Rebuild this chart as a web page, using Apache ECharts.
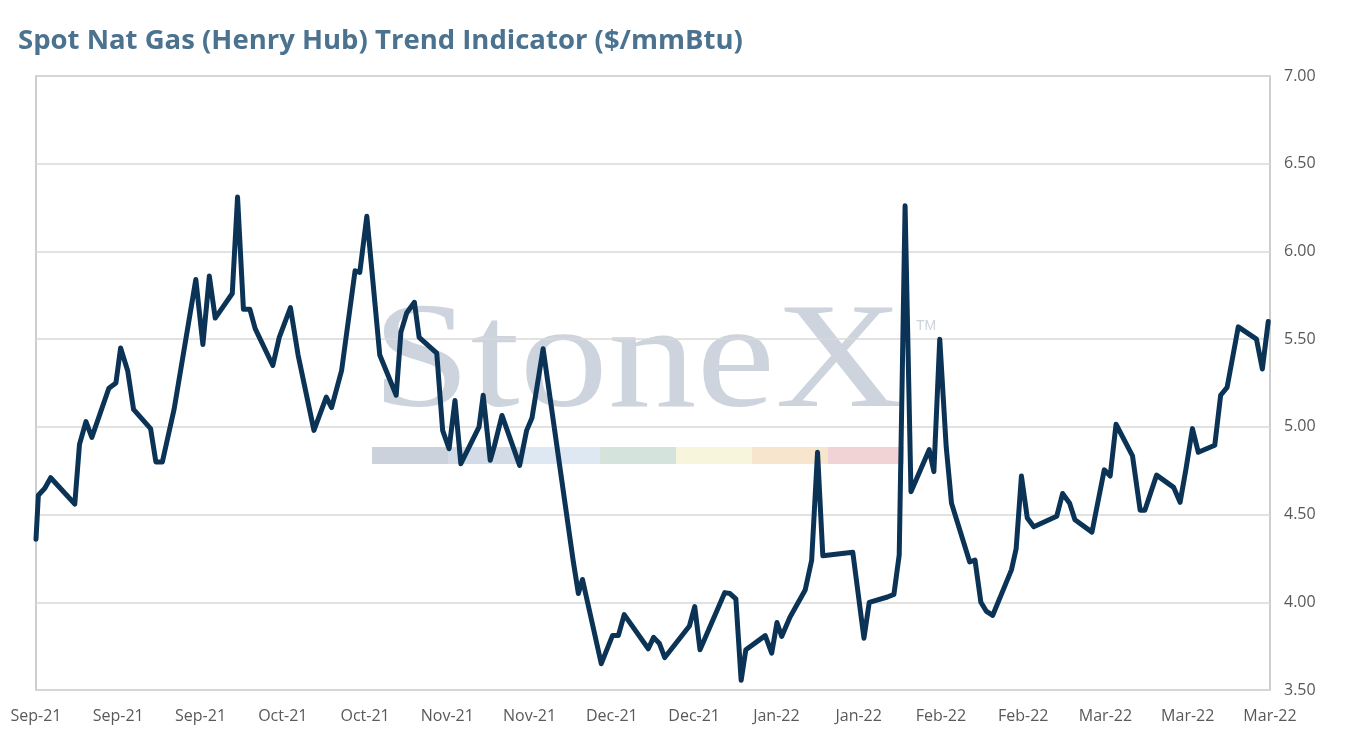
<!DOCTYPE html>
<html>
<head>
<meta charset="utf-8">
<title>Spot Nat Gas (Henry Hub) Trend Indicator</title>
<script src="https://cdn.jsdelivr.net/npm/echarts@6/dist/echarts.min.js"></script>
<style>
  html, body { margin: 0; padding: 0; background: #fff; }
  #chart { width: 1351px; height: 750px; }
</style>
</head>
<body>
<div id="chart"></div>
<script>
// x position in days counted from the 1 Sep 2021 tick (turning points only)
var days = [
    0, 0.4, 1.5, 2.5, 6.6, 7.4, 8.5, 9.5, 12.4, 13.6, 14.4, 15.6, 16.6, 19.5, 20.4, 21.5,
    23.5, 27.2, 28.4, 29.5, 30.5, 33.4, 34.3, 35.3, 36.4, 37.3, 40.3, 41.4, 43.3, 44.6,
    47.3, 49.4, 50.3, 52.0, 54.3, 55.1, 56.3, 58.5, 61.3, 62.1, 63.1, 64.4, 65.2, 68.2,
    69.2, 70.3, 71.3, 72.3, 75.4, 76.1, 77.3, 78.0, 79.3, 82.3, 83.5, 84.4, 86.3, 91.4,
    92.3, 93.0, 96.2, 98.1, 99.1, 100.1, 104.2, 105.1, 106.1, 107.0, 111.2, 112.1, 113.0,
    117.2, 118.1, 119.1, 120.0, 120.8, 124.1, 125.2, 126.1, 126.9, 128.3, 130.9, 132.0,
    133.0, 133.9, 139.0, 140.9, 141.8, 144.9, 146.0, 146.9, 147.9, 148.9, 152.0, 152.8,
    153.8, 154.9, 155.8, 158.9, 159.8, 160.8, 161.7, 162.8, 166.0, 166.8, 167.7, 168.7,
    169.8, 173.7, 174.7, 175.9, 176.8, 179.7, 181.8, 182.8, 183.8, 186.6, 187.9, 188.7,
    190.7, 193.6, 194.7, 195.7, 196.8, 197.8, 200.6, 201.6, 202.7, 204.6, 207.7, 208.7, 209.7
];
// spot price, $/mmBtu
var prices = [
    4.36, 4.61, 4.65, 4.71, 4.56, 4.90, 5.03, 4.94, 5.22, 5.25, 5.45, 5.32, 5.10, 4.99, 4.80, 4.80,
    5.10, 5.84, 5.47, 5.86, 5.62, 5.76, 6.31, 5.67, 5.67, 5.56, 5.35, 5.51, 5.68, 5.41,
    4.98, 5.17, 5.11, 5.32, 5.89, 5.88, 6.20, 5.41, 5.18, 5.54, 5.65, 5.71, 5.51, 5.42,
    4.98, 4.875, 5.15, 4.79, 5.00, 5.18, 4.81, 4.89, 5.065, 4.78, 4.98, 5.05, 5.445, 4.24,
    4.05, 4.13, 3.65, 3.81, 3.81, 3.93, 3.735, 3.80, 3.765, 3.685, 3.865, 3.975, 3.73,
    4.055, 4.05, 4.02, 3.555, 3.73, 3.81, 3.71, 3.885, 3.805, 3.915, 4.07, 4.24,
    4.855, 4.265, 4.285, 3.795, 4.00, 4.03, 4.045, 4.27, 6.26, 4.63, 4.87, 4.745,
    5.50, 4.885, 4.565, 4.23, 4.24, 4.00, 3.95, 3.925, 4.185, 4.305, 4.72, 4.48,
    4.43, 4.49, 4.62, 4.565, 4.47, 4.40, 4.755, 4.72, 5.015, 4.835, 4.525, 4.525,
    4.725, 4.655, 4.57, 4.76, 4.99, 4.855, 4.895, 5.18, 5.225, 5.57, 5.50, 5.33, 5.60
];
// one label every 14 days
var tickLabels = ['Sep-21', 'Sep-21', 'Sep-21', 'Oct-21', 'Oct-21', 'Nov-21', 'Nov-21', 'Dec-21',
    'Dec-21', 'Jan-22', 'Jan-22', 'Feb-22', 'Feb-22', 'Mar-22', 'Mar-22', 'Mar-22'];

var stripeColors = ['#cbd2db', '#d3dce6', '#dde8f3', '#d4e3db', '#f7f5dc', '#f8e5ce', '#f1d3d6'];

var lineData = days.map(function (d, i) { return [d, prices[i]]; });

var chart = echarts.init(document.getElementById('chart'));

// StoneX watermark behind the plot
var watermark = [
    {
        type: 'text',
        x: 372, y: 367,
        scaleX: 1.18,
        z: 0,
        style: {
            text: 'StoneX',
            font: '150px "Liberation Serif"',
            fill: '#cdd4dd',
            textAlign: 'left',
            verticalAlign: 'middle'
        }
    },
    {
        type: 'text',
        x: 916, y: 326,
        z: 0,
        style: {
            text: 'TM',
            font: '14px "Liberation Sans"',
            fill: '#cdd4dd',
            textAlign: 'left',
            verticalAlign: 'middle'
        }
    }
];
stripeColors.forEach(function (c, i) {
    watermark.push({
        type: 'rect',
        z: 0,
        shape: { x: 372 + i * 76, y: 447, width: 76, height: 17 },
        style: { fill: c }
    });
});

var option = {
    backgroundColor: '#ffffff',
    animation: false,
    title: {
        text: 'Spot Nat Gas (Henry Hub) Trend Indicator ($/mmBtu)',
        left: 13,
        top: 22,
        textStyle: {
            fontFamily: 'Open Sans',
            fontWeight: 'bold',
            fontSize: 27.5,
            color: '#4b7390'
        }
    },
    grid: {
        left: 36,
        right: 81,
        top: 76,
        bottom: 60,
        show: true,
        borderColor: '#bfbfbf',
        borderWidth: 1.5
    },
    graphic: watermark,
    xAxis: {
        type: 'value',
        min: 0,
        max: 210,
        interval: 14,
        axisLine: { show: false },
        axisTick: { show: false },
        splitLine: { show: false },
        axisLabel: {
            margin: 18,
            fontFamily: 'Open Sans',
            fontSize: 16,
            color: '#595959',
            formatter: function (v) { return tickLabels[Math.round(v / 14)]; }
        }
    },
    yAxis: {
        type: 'value',
        position: 'right',
        min: 3.5,
        max: 7,
        interval: 0.5,
        z: 1,
        axisLine: { show: false },
        axisTick: { show: false },
        splitLine: { lineStyle: { color: '#d9d9d9', width: 1.5 } },
        axisLabel: {
            margin: 14,
            fontFamily: 'Open Sans',
            fontSize: 16,
            color: '#595959',
            formatter: function (v) { return v.toFixed(2); }
        }
    },
    series: [
        {
            type: 'line',
            data: lineData,
            z: 5,
            showSymbol: false,
            symbol: 'none',
            lineStyle: { color: '#0b3356', width: 5, join: 'round', cap: 'round' }
        }
    ]
};
chart.setOption(option);
</script>
</body>
</html>
